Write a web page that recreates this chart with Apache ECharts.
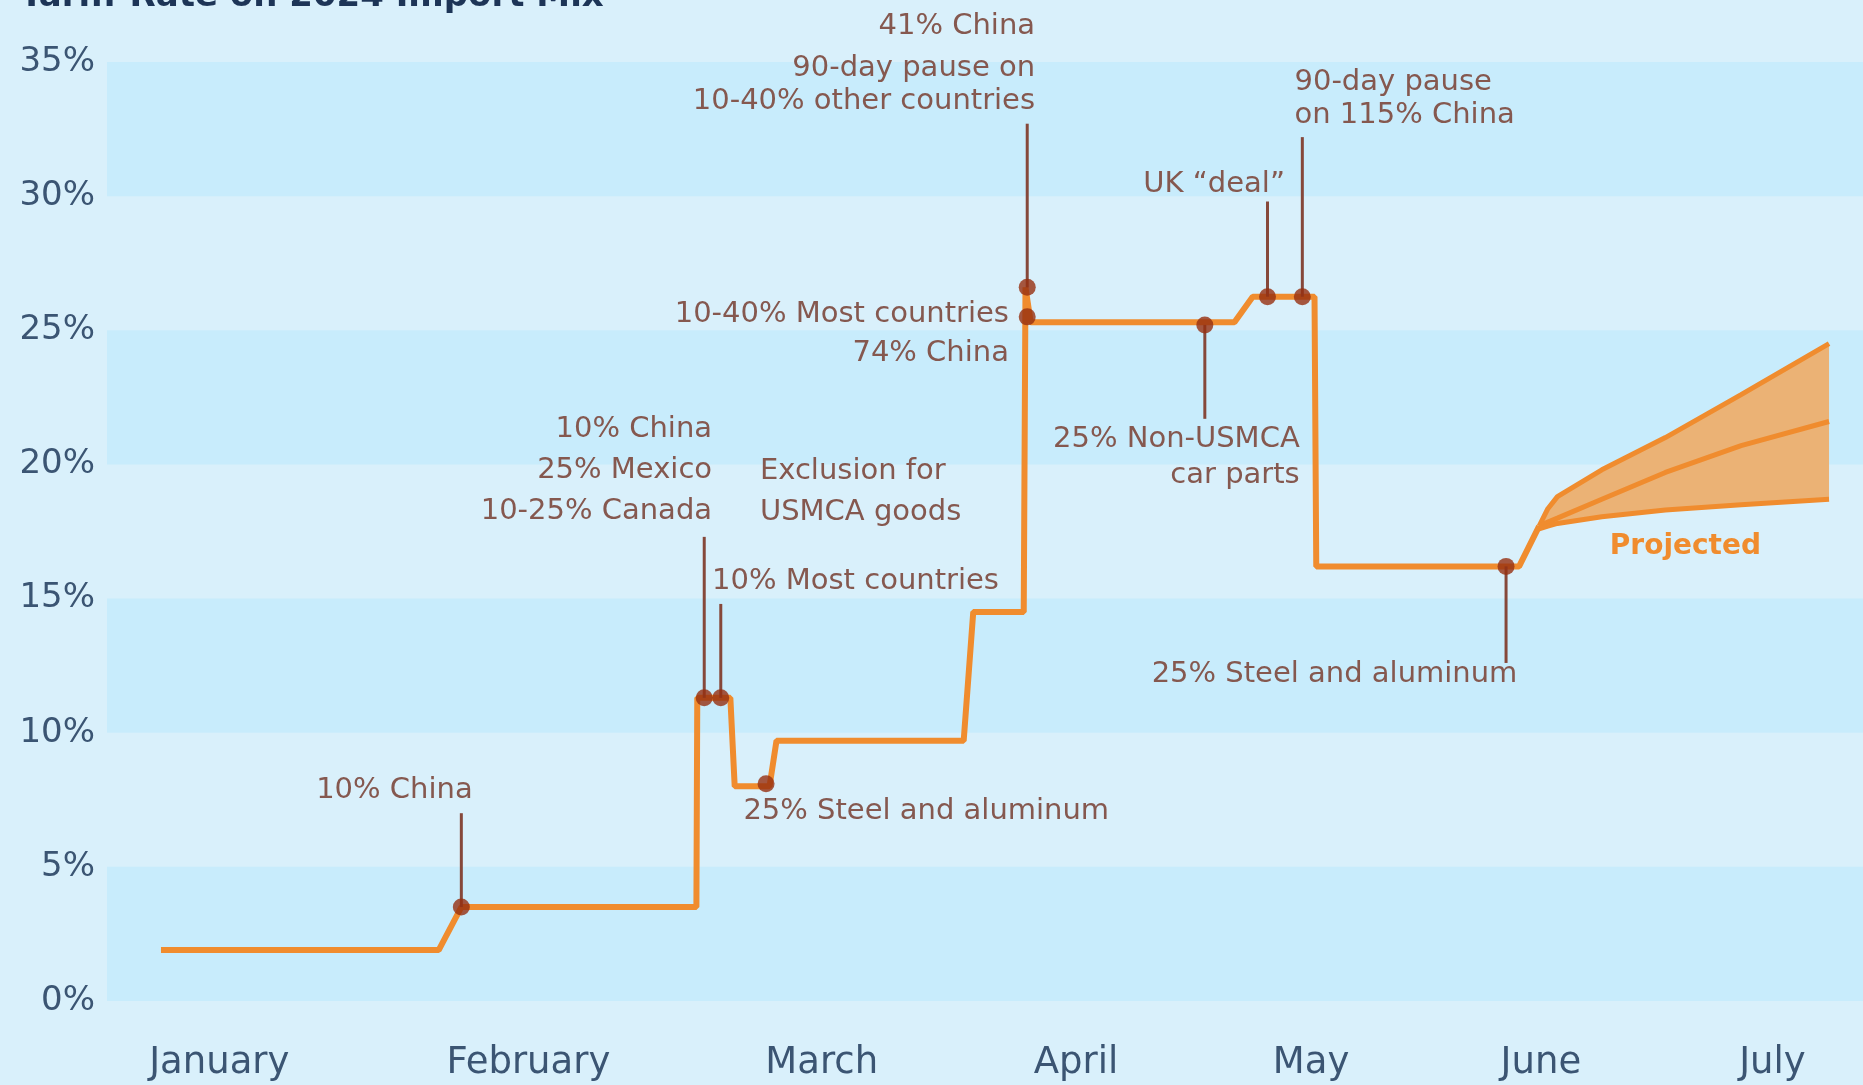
<!DOCTYPE html>
<html>
<head>
<meta charset="utf-8">
<script src="https://cdn.jsdelivr.net/npm/echarts@6/dist/echarts.min.js"></script>
<style>
  html, body { margin: 0; padding: 0; background: #d9f0fb; }
  #chart { width: 1863px; height: 1085px; }
</style>
</head>
<body>
<div id="chart"></div>
<script>
// ---------- DATA (x = day of year 2025, y = tariff rate %) ----------
const monthNames = ['January', 'February', 'March', 'April', 'May', 'June', 'July'];
const monthLabelDay = [7.2, 42.7, 76.4, 105.6, 132.6, 159.0, 185.6];
const yTicks = [0, 5, 10, 15, 20, 25, 30, 35];

const lineDay  = [0.5, 32.4, 35.0, 62.0, 62.1, 65.9, 66.4, 69.7, 70.4, 71.2, 92.7, 93.8, 99.6, 99.8, 100.4, 123.8, 125.9, 133.0, 133.2, 156.5, 158.8];
const lineRate = [1.9, 1.9, 3.5, 3.5, 11.3, 11.3, 8.0, 8.0, 8.0, 9.7, 9.7, 14.5, 14.5, 26.6, 25.3, 25.3, 26.25, 26.25, 16.2, 16.2, 17.7];

const projDay  = [158.8, 159.8, 160.9, 166.0, 173.3, 182.0, 192.1];
const projHigh = [17.7, 18.35, 18.8, 19.8, 21.0, 22.6, 24.5];
const projMid  = [17.7, 17.85, 18.0, 18.7, 19.7, 20.7, 21.6];
const projLow  = [17.6, 17.7, 17.8, 18.05, 18.3, 18.5, 18.7];

const eventDay  = [35.0, 62.9, 64.8, 70.0, 100.0, 100.0, 120.4, 127.6, 131.6, 155.0];
const eventRate = [3.5, 11.3, 11.3, 8.1, 26.6, 25.5, 25.2, 26.25, 26.25, 16.2];

const labelText = [
  '10% China',
  '10% China\n25% Mexico\n10-25% Canada',
  'Exclusion for\nUSMCA goods',
  '10% Most countries',
  '25% Steel and aluminum',
  '10-40% Most countries\n74% China',
  '90-day pause on\n10-40% other countries',
  '41% China',
  '25% Non-USMCA\ncar parts',
  'UK \u201cdeal\u201d',
  '90-day pause\non 115% China',
  '25% Steel and aluminum',
  'Projected'
];

// ---------- LAYOUT (annotation placement, in axis units) ----------
// leader lines: [eventIndex, rate at far end]
const leaderLayout = [[0, 7.0], [1, 17.3], [2, 14.8], [4, 32.7], [6, 21.7], [7, 29.8], [8, 32.2], [9, 12.6]];
// label anchors: [day, rate, align, lineHeight, kind]
const labelLayout = [
  [36.3, 7.83, 'right', 41, 'note'],
  [63.8, 19.78, 'right', 41, 'note'],
  [69.3, 18.96, 'left', 41, 'note'],
  [63.8, 15.62, 'left', 41, 'note'],
  [67.4, 7.08, 'left', 41, 'note'],
  [97.9, 24.85, 'right', 39, 'note'],
  [100.9, 34.16, 'right', 33, 'note'],
  [100.9, 36.33, 'right', 33, 'note'],
  [131.3, 20.27, 'right', 36, 'note'],
  [129.6, 30.44, 'right', 36, 'note'],
  [130.7, 33.63, 'left', 33, 'note'],
  [156.3, 12.17, 'right', 36, 'note'],
  [175.6, 16.95, 'center', 36, 'proj']
];

const ORANGE = '#f08c2e';
const DOT = '#962f10';
const LEADER = '#86483a';
const NOTE = '#85584f';
const AXIS_TXT = '#3b5573';
const FONT = 'DejaVu Sans';

const chart = echarts.init(document.getElementById('chart'), null, { renderer: 'canvas' });

const option = {
  animation: false,
  backgroundColor: '#d9f0fb',
  graphic: [{
    type: 'text', left: 20, top: -20,
    style: { text: 'Tariff Rate on 2024 Import Mix', font: 'bold 34px "DejaVu Sans"', fill: '#1d3557' }
  }],
  grid: { left: 107, right: 0, top: 62, bottom: 84, containLabel: false },
  xAxis: {
    type: 'value', min: -5.7, max: 196,
    axisLine: { show: false }, axisTick: { show: false }, splitLine: { show: false },
    axisLabel: {
      customValues: monthLabelDay,
      formatter: v => monthNames[monthLabelDay.indexOf(v)] || '',
      fontFamily: FONT, fontSize: 37, color: AXIS_TXT, margin: 44
    }
  },
  yAxis: {
    type: 'value', min: yTicks[0], max: yTicks[yTicks.length - 1], interval: 5,
    axisLine: { show: false }, axisTick: { show: false }, splitLine: { show: false },
    splitArea: { show: true, areaStyle: { color: ['#c8ecfc', 'rgba(0,0,0,0)'] } },
    axisLabel: { formatter: '{value}%', fontFamily: FONT, fontSize: 34, color: AXIS_TXT, margin: 12 }
  },
  series: [
    {
      type: 'custom', name: 'band', z: 1, clip: false,
      data: [0],
      renderItem: (params, api) => {
        const pts = [];
        projDay.forEach((d, i) => pts.push(api.coord([d, projHigh[i]])));
        for (let i = projDay.length - 1; i >= 0; i--) pts.push(api.coord([projDay[i], projLow[i]]));
        return { type: 'polygon', shape: { points: pts }, style: { fill: '#ebb275' } };
      }
    },
    {
      type: 'line', name: 'Tariff rate', z: 3, showSymbol: false,
      data: lineDay.map((d, i) => [d, lineRate[i]]),
      lineStyle: { color: ORANGE, width: 6 }
    },
    { type: 'line', z: 3, showSymbol: false, data: projDay.map((d, i) => [d, projHigh[i]]), lineStyle: { color: ORANGE, width: 5 } },
    { type: 'line', z: 3, showSymbol: false, data: projDay.map((d, i) => [d, projMid[i]]), lineStyle: { color: ORANGE, width: 5 } },
    { type: 'line', z: 3, showSymbol: false, data: projDay.map((d, i) => [d, projLow[i]]), lineStyle: { color: ORANGE, width: 5 } },
    {
      type: 'custom', name: 'leaders', z: 4, clip: false,
      data: leaderLayout.map(l => [eventDay[l[0]], eventRate[l[0]], l[1]]),
      renderItem: (params, api) => {
        const a = api.coord([api.value(0), api.value(1)]);
        const b = api.coord([api.value(0), api.value(2)]);
        return { type: 'line', shape: { x1: a[0], y1: a[1], x2: b[0], y2: b[1] }, style: { stroke: LEADER, lineWidth: 3 } };
      }
    },
    {
      type: 'scatter', name: 'events', z: 5, symbolSize: 17,
      itemStyle: { color: DOT },
      data: eventDay.map((d, i) => [d, eventRate[i]])
    },
    {
      type: 'custom', name: 'labels', z: 6, clip: false,
      data: labelLayout.map(l => [l[0], l[1]]),
      renderItem: (params, api) => {
        const i = params.dataIndex;
        const L = labelLayout[i];
        const p = api.coord([api.value(0), api.value(1)]);
        const proj = L[4] === 'proj';
        return {
          type: 'text', x: p[0], y: p[1],
          style: {
            text: labelText[i], align: L[2], verticalAlign: 'middle', lineHeight: L[3],
            font: (proj ? 'bold 28px ' : '29px ') + '"DejaVu Sans"',
            fill: proj ? ORANGE : NOTE
          }
        };
      }
    }
  ]
};
chart.setOption(option);
</script>
</body>
</html>
